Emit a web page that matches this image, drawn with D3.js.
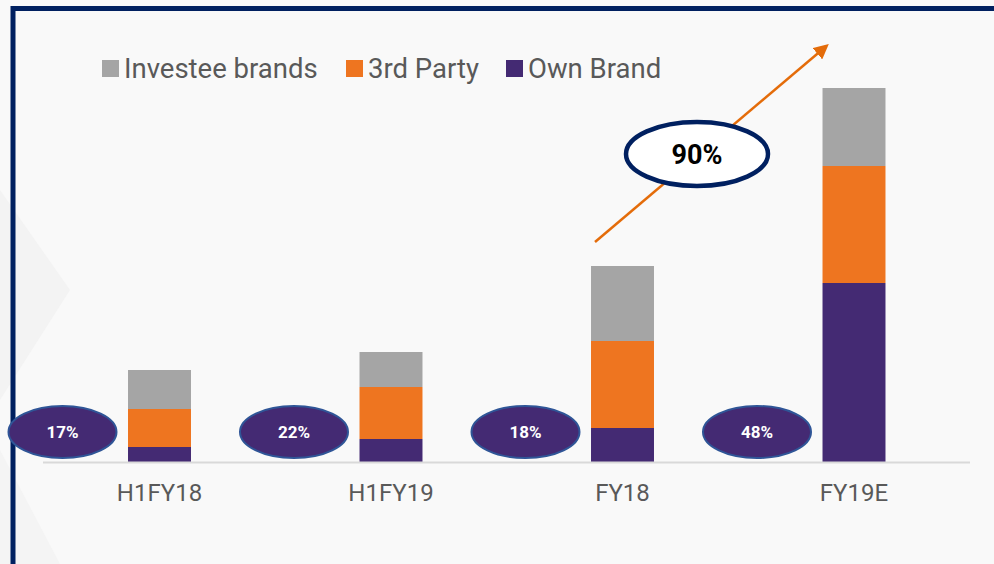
<!DOCTYPE html>
<html>
<head>
<meta charset="utf-8">
<script src="https://cdn.jsdelivr.net/npm/d3@7"></script>
<style>
  body { margin: 0; background: #f9f9f9; }
  svg { display: block; font-family: Roboto, "Noto Sans", sans-serif; }
</style>
</head>
<body>
<div id="chart"></div>
<script>
var periods = ["H1FY18", "H1FY19", "FY18", "FY19E"];
var ownBrand = [15, 23, 34, 179];
var thirdParty = [38, 52, 87, 117];
var investee = [39, 35, 75, 78];
var ownShare = ["17%", "22%", "18%", "48%"];
var growthLabel = "90%";
var seriesNames = ["Investee brands", "3rd Party", "Own Brand"];
var seriesColors = ["#a5a5a5", "#ee7520", "#442a73"];

var width = 994, height = 564;
var svg = d3.select("#chart").append("svg")
    .attr("width", width)
    .attr("height", height);

// faint background shapes
svg.append("rect").attr("width", width).attr("height", height).attr("fill", "#f9f9f9");
svg.append("polygon")
    .attr("points", "0,190 70,290 0,400")
    .attr("fill", "#f3f3f3");
svg.append("polygon")
    .attr("points", "0,450 60,564 0,564")
    .attr("fill", "#f4f4f4");

// frame
svg.append("rect")
    .attr("x", 13).attr("y", 8.5)
    .attr("width", 1100).attr("height", 700)
    .attr("fill", "none")
    .attr("stroke", "#002060")
    .attr("stroke-width", 5);

var x = d3.scaleBand()
    .domain(periods)
    .range([43.75, 969.75])
    .paddingInner(0.728)
    .paddingOuter(0.364);

var y = d3.scaleLinear()
    .domain([0, 400])
    .range([462, 62]);

// stacked data
var rows = periods.map(function(p, i) {
    return { period: p, own: ownBrand[i], third: thirdParty[i], inv: investee[i] };
});
var stack = d3.stack().keys(["own", "third", "inv"]);
var layers = stack(rows);
var layerColors = [seriesColors[2], seriesColors[1], seriesColors[0]];

svg.append("g").selectAll("g")
    .data(layers)
    .enter().append("g")
    .attr("fill", function(d, i) { return layerColors[i]; })
    .selectAll("rect")
    .data(function(d) { return d; })
    .enter().append("rect")
    .attr("x", function(d) { return x(d.data.period); })
    .attr("y", function(d) { return y(d[1]); })
    .attr("width", x.bandwidth())
    .attr("height", function(d) { return y(d[0]) - y(d[1]); });

// baseline
svg.append("line")
    .attr("x1", 43).attr("x2", 970)
    .attr("y1", y(0) + 0.5).attr("y2", y(0) + 0.5)
    .attr("stroke", "#d9d9d9")
    .attr("stroke-width", 2);

// x axis labels
svg.append("g").selectAll("text")
    .data(periods)
    .enter().append("text")
    .attr("x", function(d) { return x(d) + x.bandwidth() / 2; })
    .attr("y", 501)
    .attr("text-anchor", "middle")
    .attr("font-size", "24px")
    .attr("fill", "#595959")
    .text(function(d) { return d; });

// share ellipses
var shareG = svg.append("g").selectAll("g")
    .data(periods)
    .enter().append("g")
    .attr("transform", function(d) {
        return "translate(" + (x(d) + x.bandwidth() / 2 - 97) + ",432)";
    });
shareG.append("ellipse")
    .attr("rx", 54).attr("ry", 26)
    .attr("fill", "#442a73")
    .attr("stroke", "#2f5597")
    .attr("stroke-width", 2);
shareG.append("text")
    .attr("y", 6)
    .attr("text-anchor", "middle")
    .attr("font-size", "17px")
    .attr("font-weight", "bold")
    .attr("fill", "#ffffff")
    .text(function(d, i) { return ownShare[i]; });

// growth arrow
var defs = svg.append("defs");
defs.append("marker")
    .attr("id", "arrowHead")
    .attr("viewBox", "0 0 10 10")
    .attr("refX", 8).attr("refY", 5)
    .attr("markerWidth", 6).attr("markerHeight", 6)
    .attr("orient", "auto")
    .append("path")
    .attr("d", "M0,0 L10,5 L0,10 z")
    .attr("fill", "#e46c0a");

var total = function(i) { return ownBrand[i] + thirdParty[i] + investee[i]; };
var ax1 = x("FY18") + 4, ay1 = y(total(2)) - 24;
var ax2 = x("FY19E") + 4, ay2 = y(total(3)) - 42;
svg.append("line")
    .attr("x1", ax1).attr("y1", ay1)
    .attr("x2", ax2).attr("y2", ay2)
    .attr("stroke", "#e46c0a")
    .attr("stroke-width", 2.5)
    .attr("marker-end", "url(#arrowHead)");

svg.append("ellipse")
    .attr("cx", 697).attr("cy", 154)
    .attr("rx", 71).attr("ry", 32)
    .attr("fill", "#ffffff")
    .attr("stroke", "#002060")
    .attr("stroke-width", 4.5);
svg.append("text")
    .attr("x", 697).attr("y", 164)
    .attr("text-anchor", "middle")
    .attr("font-size", "27px")
    .attr("font-weight", "bold")
    .attr("fill", "#000000")
    .text(growthLabel);

// legend
var legendX = [102, 346, 506];
var legend = svg.append("g").selectAll("g")
    .data(seriesNames)
    .enter().append("g")
    .attr("transform", function(d, i) { return "translate(" + legendX[i] + ",60)"; });
legend.append("rect")
    .attr("width", 17).attr("height", 17)
    .attr("fill", function(d, i) { return seriesColors[i]; });
legend.append("text")
    .attr("x", 22).attr("y", 18)
    .attr("font-size", "27.5px")
    .attr("fill", "#595959")
    .text(function(d) { return d; });
</script>
</body>
</html>
